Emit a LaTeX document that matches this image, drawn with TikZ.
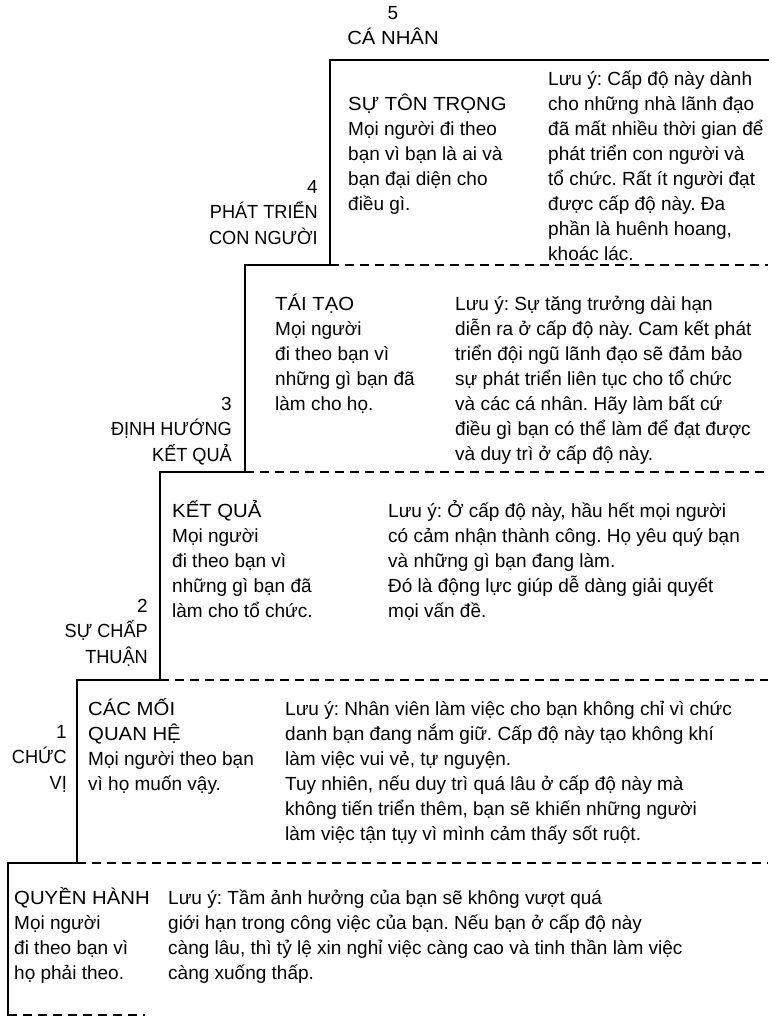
\documentclass[tikz,border=0pt]{standalone}
\usepackage{fontspec}
\setmainfont{Liberation Sans}
\frenchspacing
\newcommand{\firstln}{\rule{0pt}{19pt}}
% slightly wide capitals for the level titles, narrow ones for the side labels
\newcommand{\widecaps}[1]{{\addfontfeatures{FakeStretch=1.07}#1}}
\newcommand{\narrowcaps}[1]{{\addfontfeatures{FakeStretch=0.955}#1}}
\begin{document}
\begin{tikzpicture}[x=1pt,y=-1pt,
  txt/.style={inner sep=0pt,align=left,anchor=north west,
    font=\fontsize{19}{25}\selectfont},
  lbl/.style={inner sep=0pt,align=right,anchor=north east,
    font=\fontsize{19}{25.5}\selectfont},
  stair/.style={line width=1.9pt,line cap=rect},
  divider/.style={line width=1.5pt,dash pattern=on 9pt off 6pt}]
\useasboundingbox (0,0) rectangle (775,1018);

% corners of the staircase
\coordinate (t5) at (330,60);   \coordinate (r5) at (768,60);
\coordinate (b5) at (330,265);  \coordinate (t4) at (245,265); \coordinate (r4) at (768,265);
\coordinate (b4) at (245,472);  \coordinate (t3) at (160,472); \coordinate (r3) at (768,472);
\coordinate (b3) at (160,680);  \coordinate (t2) at (77,680);  \coordinate (r2) at (768,680);
\coordinate (b2) at (77,863);   \coordinate (t1) at (8,863);   \coordinate (r1) at (768,863);
\coordinate (b1) at (8,1015);   \coordinate (r0) at (145,1015);

% solid staircase outline
\draw[stair] (r5) -- (t5) -- (b5) -- (t4) -- (b4) -- (t3) -- (b3) -- (t2) -- (b2) -- (t1) -- (b1);

% dashed level dividers
\draw[divider] (b5) -- (r4);
\draw[divider] (b4) -- (r3);
\draw[divider] (b3) -- (r2);
\draw[divider] (b2) -- (r1);
\draw[divider] (b1) -- (r0);

% level 5
\node[inner sep=0pt,align=center,anchor=north,font=\fontsize{19}{25}\selectfont] (lv5) at (393,0) {\firstln 5\\\widecaps{CÁ NHÂN}};
\node[txt] (h5) at (348,91) {\firstln \widecaps{SỰ TÔN TRỌNG}\\Mọi người đi theo\\bạn vì bạn là ai và\\bạn đại diện cho\\điều gì.};
\node[txt] (n5) at (548,66) {\firstln Lưu ý: Cấp độ này dành\\cho những nhà lãnh đạo\\đã mất nhiều thời gian để\\phát triển con người và\\tổ chức. Rất ít người đạt\\được cấp độ này. Đa\\phần là huênh hoang,\\khoác lác.};

% level 4
\node[lbl] (lv4) at (318,174) {\firstln 4\\\narrowcaps{PHÁT TRIỂN}\\\narrowcaps{CON NGƯỜI}};
\node[txt] (h4) at (275,291) {\firstln \widecaps{TÁI TẠO}\\Mọi người\\đi theo bạn vì\\những gì bạn đã\\làm cho họ.};
\node[txt] (n4) at (455,291) {\firstln Lưu ý: Sự tăng trưởng dài hạn\\diễn ra ở cấp độ này. Cam kết phát\\triển đội ngũ lãnh đạo sẽ đảm bảo\\sự phát triển liên tục cho tổ chức\\và các cá nhân. Hãy làm bất cứ\\điều gì bạn có thể làm để đạt được\\và duy trì ở cấp độ này.};

% level 3
\node[lbl] (lv3) at (232,391) {\firstln 3\\\narrowcaps{ĐỊNH HƯỚNG}\\\narrowcaps{KẾT QUẢ}};
\node[txt] (h3) at (172,498) {\firstln \widecaps{KẾT QUẢ}\\Mọi người\\đi theo bạn vì\\những gì bạn đã\\làm cho tổ chức.};
\node[txt] (n3) at (388,498) {\firstln Lưu ý: Ở cấp độ này, hầu hết mọi người\\có cảm nhận thành công. Họ yêu quý bạn\\và những gì bạn đang làm.\\Đó là động lực giúp dễ dàng giải quyết\\mọi vấn đề.};

% level 2
\node[lbl] (lv2) at (148,593) {\firstln 2\\\narrowcaps{SỰ CHẤP}\\\narrowcaps{THUẬN}};
\node[txt] (h2) at (88,696) {\firstln \widecaps{CÁC MỐI}\\\widecaps{QUAN HỆ}\\Mọi người theo bạn\\vì họ muốn vậy.};
\node[txt] (n2) at (285,696) {\firstln Lưu ý: Nhân viên làm việc cho bạn không chỉ vì chức\\danh bạn đang nắm giữ. Cấp độ này tạo không khí\\làm việc vui vẻ, tự nguyện.\\Tuy nhiên, nếu duy trì quá lâu ở cấp độ này mà\\không tiến triển thêm, bạn sẽ khiến những người\\làm việc tận tụy vì mình cảm thấy sốt ruột.};

% level 1
\node[lbl] (lv1) at (67,719) {\firstln 1\\\narrowcaps{CHỨC}\\\narrowcaps{VỊ}};
\node[txt] (h1) at (14,885) {\firstln \widecaps{QUYỀN HÀNH}\\Mọi người\\đi theo bạn vì\\họ phải theo.};
\node[txt] (n1) at (168,885) {\firstln Lưu ý: Tầm ảnh hưởng của bạn sẽ không vượt quá\\giới hạn trong công việc của bạn. Nếu bạn ở cấp độ này\\càng lâu, thì tỷ lệ xin nghỉ việc càng cao và tinh thần làm việc\\càng xuống thấp.};
\end{tikzpicture}
\end{document}
